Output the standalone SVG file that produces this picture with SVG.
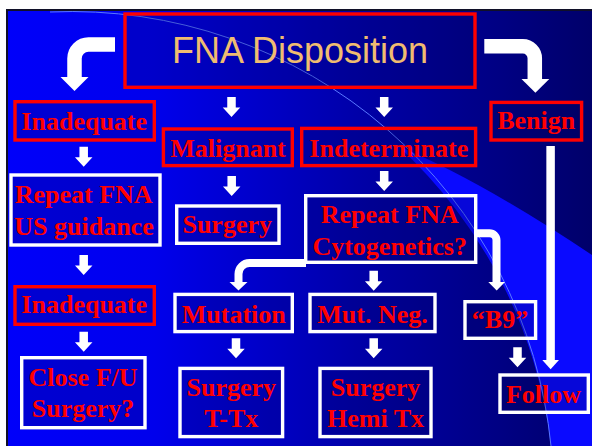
<svg xmlns="http://www.w3.org/2000/svg" xmlns:xlink="http://www.w3.org/1999/xlink" width="592" height="446" viewBox="0 0 592 446">
<defs>
<linearGradient id="bg" gradientUnits="userSpaceOnUse" x1="8" y1="0" x2="592" y2="0">
<stop offset="0" stop-color="#0000fa"/>
<stop offset="0.25" stop-color="#0000ec"/>
<stop offset="0.6" stop-color="#0000a8"/>
<stop offset="0.85" stop-color="#000082"/>
<stop offset="1" stop-color="#00006a"/>
</linearGradient>
<path id="sa" d="M-4.25,0 H4.25 V10.5 H8.75 L0,20 L-8.75,10.5 H-4.25 Z"/>
<style>
.rb{fill:#000050;fill-opacity:0.22;stroke:#ff0000;stroke-width:3.4}
.wb{fill:#000050;fill-opacity:0.22;stroke:#ffffff;stroke-width:3.4}
.t{font-family:"Liberation Serif","Times New Roman",serif;font-weight:bold;font-size:26px;fill:#ff0000;text-anchor:middle}
.title{font-family:"Liberation Sans",Arial,sans-serif;font-size:36px;fill:#f0bc70;text-anchor:middle}
.ln{fill:none;stroke:#ffffff}
.ah{fill:#ffffff}
</style>
</defs>
<rect x="0" y="0" width="592" height="446" fill="#ffffff"/>
<rect x="6" y="9" width="586" height="437" fill="#101028"/>
<rect x="8" y="11" width="584" height="435" fill="url(#bg)"/>
<path d="M398,146 Q480,180 592,255 L592,446 L551,446 A482,482 0 0 0 398,146 Z" fill="#0a0aff"/>
<path d="M50,12 A482,482 0 0 1 551,446" fill="none" stroke="#5a78ff" stroke-width="1"/>

<g id="connectors">
<path class="ln" stroke-width="14.5" d="M115,44.5 H88.5 A14,14 0 0 0 74.5,58.5 V78"/>
<polygon class="ah" points="60.5,77 88.5,77 74.5,91"/>
<path class="ln" stroke-width="14.5" d="M484.3,46.3 H522.8 A12,12 0 0 1 534.8,58.3 V80"/>
<polygon class="ah" points="521.5,79 549.3,79 535.4,92.7"/>
<path class="ln" stroke-width="8" d="M306,263 H249.5 A11,11 0 0 0 238.5,274 V283"/>
<polygon class="ah" points="229.5,282 247.5,282 238.5,290.5"/>
<path class="ln" stroke-width="8" d="M476,233.3 H489.5 A7,7 0 0 1 496.5,240.3 V283"/>
<polygon class="ah" points="488.3,282 505,282 496.7,290.5"/>
<path class="ln" stroke-width="8.5" d="M550.6,146 V361"/>
<polygon class="ah" points="542.3,360 559,360 550.6,369.3"/>
<use xlink:href="#sa" class="ah" transform="translate(231.5,97)"/>
<use xlink:href="#sa" class="ah" transform="translate(384.2,97)"/>
<use xlink:href="#sa" class="ah" transform="translate(83.7,146.7)"/>
<use xlink:href="#sa" class="ah" transform="translate(231.7,176)"/>
<use xlink:href="#sa" class="ah" transform="translate(384.2,171)"/>
<use xlink:href="#sa" class="ah" transform="translate(83.7,255)"/>
<use xlink:href="#sa" class="ah" transform="translate(83.7,331.7)"/>
<use xlink:href="#sa" class="ah" transform="translate(373.7,270.7)"/>
<use xlink:href="#sa" class="ah" transform="translate(236,338.3)"/>
<use xlink:href="#sa" class="ah" transform="translate(373.7,338.3)"/>
<use xlink:href="#sa" class="ah" transform="translate(517.5,347.3)"/>
</g>

<g id="title">
<rect class="rb" x="125" y="14" width="350" height="73.3"/>
<text class="title" x="300" y="63">FNA Disposition</text>
</g>
<g id="inadequate1">
<rect class="rb" x="15" y="101.7" width="139.3" height="38.3"/>
<text class="t" x="84.2" y="129.5">Inadequate</text>
</g>
<g id="malignant">
<rect class="rb" x="163.4" y="129" width="128.9" height="36.6"/>
<text class="t" x="228" y="156.7">Malignant</text>
</g>
<g id="indeterminate">
<rect class="rb" x="301.7" y="128.4" width="173.9" height="37.2"/>
<text class="t" x="388.8" y="156.7">Indeterminate</text>
</g>
<g id="benign">
<rect class="rb" x="491" y="102.4" width="90.6" height="37.6"/>
<text class="t" x="536.2" y="129.3">Benign</text>
</g>
<g id="repeat-us">
<rect class="wb" x="11" y="175" width="149" height="70"/>
<text class="t" x="83.7" y="202.5">Repeat FNA</text>
<text class="t" x="84" y="234.5">US guidance</text>
</g>
<g id="surgery1">
<rect class="wb" x="176.7" y="206" width="102.3" height="37.3"/>
<text class="t" x="227.2" y="233.3">Surgery</text>
</g>
<g id="repeat-cyto">
<rect class="wb" x="305.7" y="195.7" width="170" height="66.6"/>
<text class="t" x="389.7" y="222.7">Repeat FNA</text>
<text class="t" x="389.7" y="255">Cytogenetics?</text>
</g>
<g id="inadequate2">
<rect class="rb" x="15" y="286.7" width="139.3" height="37.6"/>
<text class="t" x="84.2" y="313.3">Inadequate</text>
</g>
<g id="mutation">
<rect class="wb" x="175" y="294.4" width="117.3" height="37.2"/>
<text class="t" x="233.8" y="322.7">Mutation</text>
</g>
<g id="mutneg">
<rect class="wb" x="310" y="294.4" width="125" height="37.2"/>
<text class="t" x="372.5" y="322.7">Mut. Neg.</text>
</g>
<g id="b9">
<rect class="wb" x="465" y="301.7" width="70.6" height="36.6"/>
<text class="t" x="500" y="328.3">“B9”</text>
</g>
<g id="closefu">
<rect class="wb" x="21.7" y="357.7" width="123.3" height="70"/>
<text class="t" x="83" y="385.7">Close F/U</text>
<text class="t" x="83" y="417.3">Surgery?</text>
</g>
<g id="surgery-ttx">
<rect class="wb" x="180" y="368.4" width="102.6" height="68.2"/>
<text class="t" x="231.3" y="395.7">Surgery</text>
<text class="t" x="231.3" y="426.7">T-Tx</text>
</g>
<g id="surgery-hemi">
<rect class="wb" x="320" y="368.4" width="111" height="68.2"/>
<text class="t" x="375.5" y="395.7">Surgery</text>
<text class="t" x="375.5" y="426.7">Hemi Tx</text>
</g>
<g id="follow">
<rect class="wb" x="500" y="375" width="88.3" height="37.3"/>
<text class="t" x="543.5" y="402.7">Follow</text>
</g>
</svg>
